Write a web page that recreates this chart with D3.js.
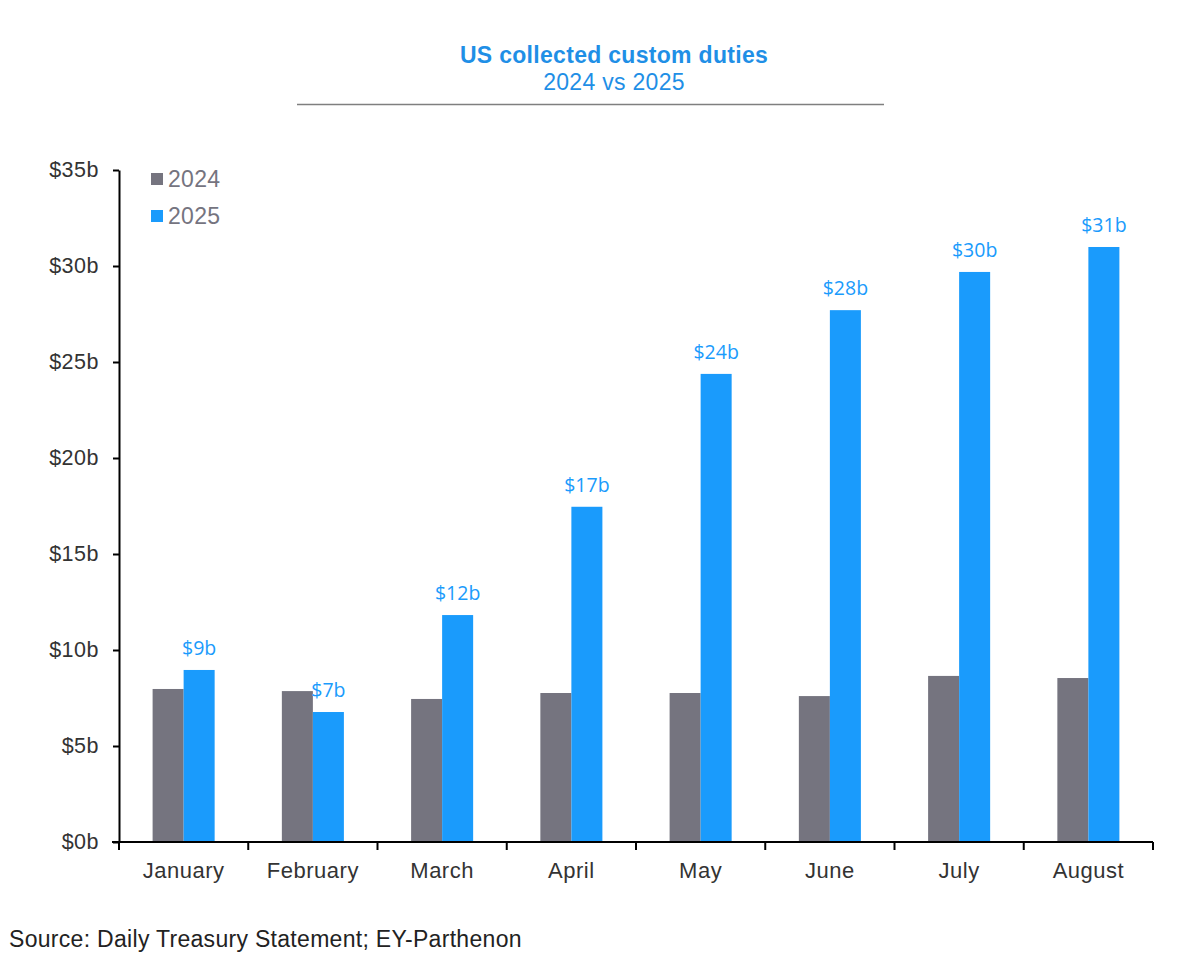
<!DOCTYPE html>
<html><head><meta charset="utf-8">
<script src="https://cdn.jsdelivr.net/npm/d3@7/dist/d3.min.js"></script>
<style>body{margin:0;background:#fff}svg{display:block}</style>
</head><body>
<svg id="c" width="1199" height="955"></svg>
<script>
const months = ["January","February","March","April","May","June","July","August"];
const series = ["2024","2025"];
const values2024 = [7.97, 7.86, 7.45, 7.76, 7.76, 7.6, 8.65, 8.54];
const values2025 = [8.96, 6.77, 11.82, 17.46, 24.38, 27.7, 29.69, 30.99];
const labels2025 = ["$9b","$7b","$12b","$17b","$24b","$28b","$30b","$31b"];
const yTicks = [0,5,10,15,20,25,30,35];
const colors = {"2024":"#75747f","2025":"#1a9bfc"};

const FONT = "Liberation Sans, Arial, sans-serif";
const svg = d3.select("#c");
const L = 119, R = 1153, T = 170, B = 842;
const x = d3.scaleBand().domain(months).range([L, R]).paddingInner(0).paddingOuter(0);
const x1 = d3.scaleBand().domain(series).range([x.bandwidth()*0.26, x.bandwidth()*0.74]);
const y = d3.scaleLinear().domain([0,35]).range([B, T]);

// title
svg.append("text").attr("x",614).attr("y",63).attr("text-anchor","middle")
  .attr("font-family",FONT).attr("font-weight","bold").attr("letter-spacing",0.3)
  .attr("font-size",23).attr("fill","#1f8fe6").text("US collected custom duties");
svg.append("text").attr("x",614).attr("y",90).attr("text-anchor","middle")
  .attr("font-family",FONT).attr("letter-spacing",0.3)
  .attr("font-size",23).attr("fill","#1f8fe6").text("2024 vs 2025");
svg.append("line").attr("x1",297).attr("x2",884).attr("y1",104.5).attr("y2",104.5)
  .attr("stroke","#7f7f7f").attr("stroke-width",1.5);

// bars
const data = months.map((m,i)=>({m, v:[{s:"2024",v:values2024[i]},{s:"2025",v:values2025[i]}], lab:labels2025[i]}));
const g = svg.append("g").selectAll("g").data(data).join("g")
  .attr("transform", d=>`translate(${x(d.m)},0)`);
g.selectAll("rect").data(d=>d.v).join("rect")
  .attr("x", d=>x1(d.s)).attr("width", x1.bandwidth())
  .attr("y", d=>y(d.v)).attr("height", d=>B - y(d.v))
  .attr("fill", d=>colors[d.s]);
g.append("text")
  .attr("x", x1("2025") + x1.bandwidth()/2)
  .attr("y", d=>y(d.v[1].v) - 15)
  .attr("text-anchor","middle")
  .attr("font-family","Open Sans, Noto Sans, sans-serif")
  .attr("font-size",19.5).attr("fill","#1a9bfc")
  .text(d=>d.lab);

// y axis
const ya = svg.append("g").attr("transform",`translate(${L},0)`)
  .call(d3.axisLeft(y).tickValues(yTicks).tickFormat(d=>"$"+d+"b").tickSize(6).tickSizeOuter(0).tickPadding(14));
ya.select(".domain").attr("stroke","#000").attr("stroke-width",2);
ya.selectAll(".tick line").attr("stroke","#000").attr("stroke-width",2);
ya.selectAll("text").attr("font-family",FONT).attr("font-size",21.5).attr("letter-spacing",0.5).attr("fill","#333");

// x axis
const xa = svg.append("g").attr("transform",`translate(0,${B})`);
xa.append("line").attr("x1",L-7).attr("x2",R).attr("y1",0).attr("y2",0).attr("stroke","#000").attr("stroke-width",2);
const bounds = months.map(m=>x(m)).concat([R]);
xa.selectAll("line.t").data(bounds).join("line").attr("class","t")
  .attr("x1",d=>d).attr("x2",d=>d).attr("y1",0).attr("y2",8).attr("stroke","#000").attr("stroke-width",2);
xa.selectAll("text").data(months).join("text")
  .attr("x", d=>x(d)+x.bandwidth()/2).attr("y",36).attr("text-anchor","middle")
  .attr("font-family",FONT).attr("font-size",22).attr("letter-spacing",0.5).attr("fill","#333")
  .text(d=>d);

// legend
const lg = svg.append("g").selectAll("g").data(series).join("g")
  .attr("transform",(d,i)=>`translate(151,${173+i*37})`);
lg.append("rect").attr("width",12).attr("height",12).attr("fill",d=>colors[d]);
lg.append("text").attr("x",17).attr("y",14).attr("font-family",FONT).attr("letter-spacing",0.3)
  .attr("font-size",23).attr("fill","#75747f").text(d=>d);

// source
svg.append("text").attr("x",9).attr("y",947).attr("font-family",FONT).attr("letter-spacing",0.3)
  .attr("font-size",23).attr("fill","#222").text("Source: Daily Treasury Statement; EY-Parthenon");
</script>
</body></html>
